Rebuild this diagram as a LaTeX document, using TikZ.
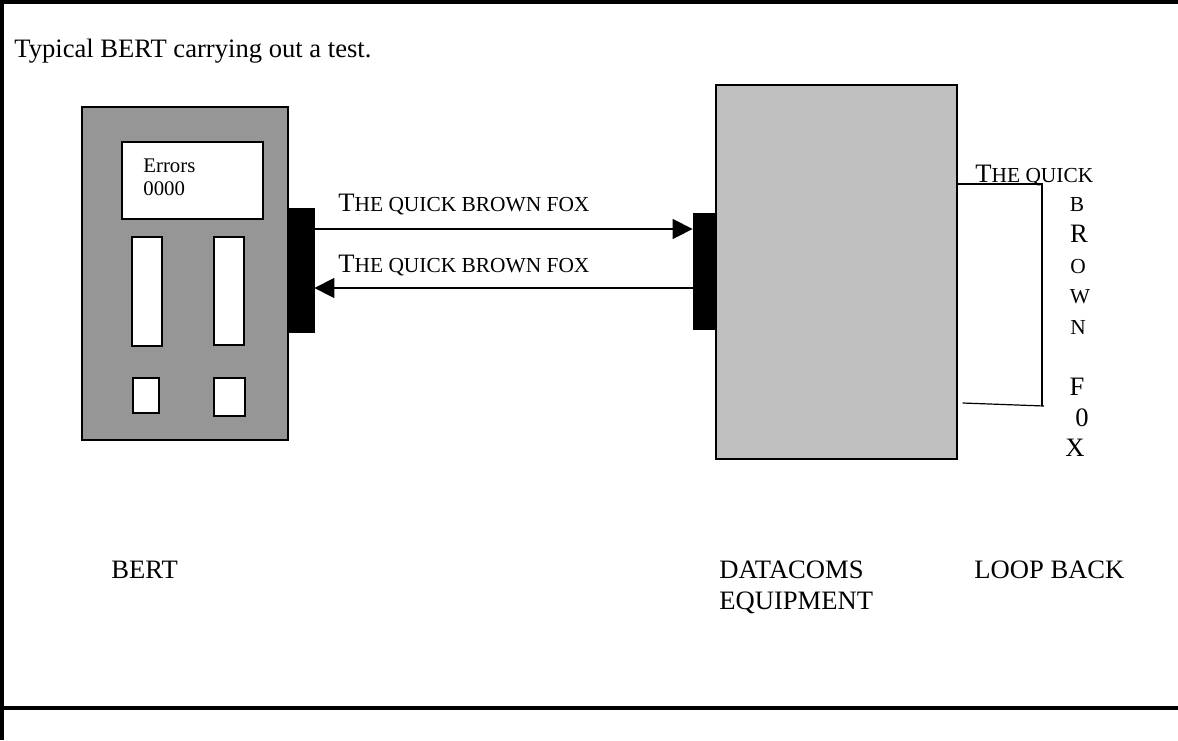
\documentclass[tikz,border=0pt]{standalone}
\usepackage{fontspec}
\setmainfont{Liberation Serif}
\usetikzlibrary{arrows.meta,positioning,calc}
\definecolor{bertgray}{RGB}{150,150,150}
\definecolor{dcegray}{RGB}{192,192,192}
\tikzset{
  device/.style={
    draw=black,
    line width=0.6pt,
    inner sep=0pt
  },
  window/.style={device, fill=white},
  port/.style={draw=black, fill=black, inner sep=0pt},
  flow/.style={line width=0.7pt, -{Triangle[length=10pt,width=10pt]}},
  loopline/.style={line width=0.6pt},
  frame/.style={line width=1.6pt},
  txt/.style={inner sep=0pt, anchor=base west, font=\fontsize{13.3}{15}\selectfont},
  smalltxt/.style={inner sep=0pt, anchor=base west, font=\fontsize{10.4}{12}\selectfont},
  letter/.style={inner sep=0pt, anchor=base, font=\fontsize{13.3}{15}\selectfont}
}
\newcommand{\smallcap}[1]{{\fontsize{10.7}{12}\selectfont #1}}
\newcommand{\foxtext}{T\smallcap{HE QUICK BROWN FOX}}

\begin{document}
\begin{tikzpicture}[x=0.5pt, y=-0.5pt]
  \useasboundingbox (0,0) rectangle (1178,740);
  \draw[frame] (2,0) -- (2,740);
  \draw[frame] (0,2) -- (1178,2);
  \draw[frame] (0,708) -- (1178,708);

  \node[txt] (title) at (14,57) {Typical BERT carrying out a test.};

  \node[device, fill=bertgray, minimum width=103pt, minimum height=166.5pt] (bert) at (185,273.5) {};
  \node[window, minimum width=70.5pt, minimum height=38.5pt] (display) at (192.5,180.5) {};
  \node[smalltxt] (errlabel) at (143,172) {Errors};
  \node[smalltxt] (errcount) at (143,195) {0000};
  \node[window, minimum width=15pt, minimum height=54.5pt] (slota) at (147,291.5) {};
  \node[window, minimum width=15pt, minimum height=54pt] (slotb) at (229,291) {};
  \node[window, minimum width=13pt, minimum height=17.5pt] (keya) at (146,395.5) {};
  \node[window, minimum width=15.5pt, minimum height=19pt] (keyb) at (229.5,397) {};
  \node[port, minimum width=12.5pt, minimum height=62pt] (bertport) at (301.5,270) {};

  \node[device, fill=dcegray, minimum width=120.5pt, minimum height=187pt] (dce) at (836.5,272) {};
  \node[port, minimum width=11pt, minimum height=58pt] (dceport) at (704,271) {};

  \coordinate (txlevel) at (0,229);
  \coordinate (rxlevel) at (0,288);
  \draw[flow] (bertport.east |- txlevel) -- (dceport.west |- txlevel);
  \draw[flow] (dceport.west |- rxlevel) -- (bertport.east |- rxlevel);
  \node[txt] (txlabel) at (338,211) {\foxtext};
  \node[txt] (rxlabel) at (338,272) {\foxtext};

  \coordinate (looptop) at (1042,184);
  \coordinate (loopbot) at (1044,406);
  \draw[loopline] (dce.east |- looptop) -- (looptop) -- (1042,406);
  \draw[loopline] ($(dce.east |- 0,403)+(5,0)$) -- (loopbot);
  \node[txt] (looptext) at (975,182) {T\smallcap{HE QUICK}};
  \node[letter] (lb) at (1077,211) {\smallcap{B}};
  \node[letter] (lr) at (1079,242) {R};
  \node[letter] (lo) at (1078,273) {\smallcap{O}};
  \node[letter] (lw) at (1080,303) {\smallcap{W}};
  \node[letter] (ln) at (1078,334) {\smallcap{N}};
  \node[letter] (lf) at (1077,395) {F};
  \node[letter] (lzero) at (1082,426) {0};
  \node[letter] (lx) at (1075,456) {X};

  \node[txt] (bertname) at (111,578) {BERT};
  \node[txt] (dcename) at (719,578) {DATACOMS};
  \node[txt] (dcename2) at (719,609) {EQUIPMENT};
  \node[txt] (loopname) at (974,578) {LOOP BACK};
\end{tikzpicture}
\end{document}
